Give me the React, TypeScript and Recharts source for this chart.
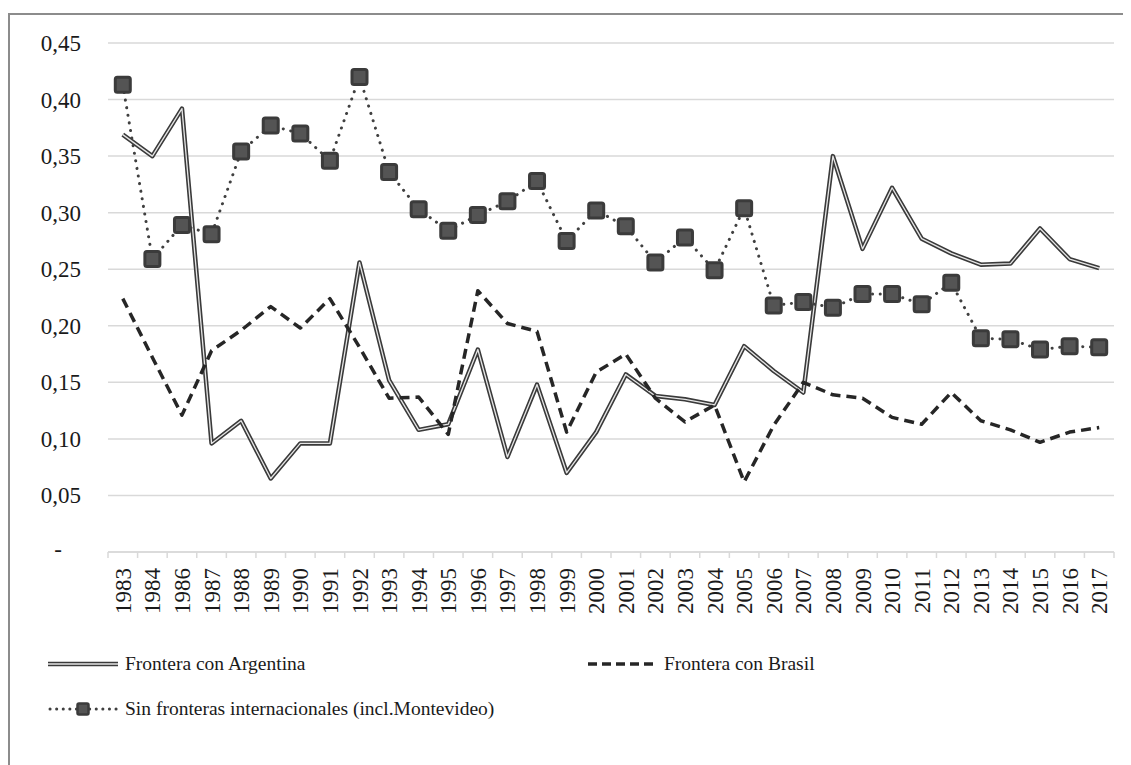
import { LineChart, Line, XAxis, YAxis, CartesianGrid, Legend } from 'recharts';

// años (falta 1985 en la serie original)
const years = [
  '1983', '1984', '1986', '1987', '1988', '1989', '1990', '1991', '1992', '1993',
  '1994', '1995', '1996', '1997', '1998', '1999', '2000', '2001', '2002', '2003',
  '2004', '2005', '2006', '2007', '2008', '2009', '2010', '2011', '2012', '2013',
  '2014', '2015', '2016', '2017',
];

const argentina = [
  0.369, 0.350, 0.392, 0.096, 0.116, 0.065, 0.096, 0.096, 0.256, 0.152,
  0.108, 0.113, 0.179, 0.084, 0.148, 0.070, 0.106, 0.157, 0.138, 0.135,
  0.130, 0.182, 0.160, 0.141, 0.350, 0.268, 0.322, 0.277, 0.264, 0.254,
  0.255, 0.286, 0.259, 0.251,
];

const brasil = [
  0.224, 0.172, 0.121, 0.178, 0.196, 0.217, 0.198, 0.224, 0.181, 0.136,
  0.137, 0.104, 0.231, 0.202, 0.195, 0.106, 0.159, 0.175, 0.136, 0.115,
  0.130, 0.062, 0.112, 0.150, 0.139, 0.136, 0.119, 0.113, 0.141, 0.116,
  0.108, 0.097, 0.106, 0.110,
];

const sinFronteras = [
  0.413, 0.259, 0.289, 0.281, 0.354, 0.377, 0.370, 0.346, 0.420, 0.336,
  0.303, 0.284, 0.298, 0.310, 0.328, 0.275, 0.302, 0.288, 0.256, 0.278,
  0.249, 0.304, 0.218, 0.221, 0.216, 0.228, 0.228, 0.219, 0.238, 0.189,
  0.188, 0.179, 0.182, 0.181,
];

const yTicks = [0, 0.05, 0.1, 0.15, 0.2, 0.25, 0.3, 0.35, 0.4, 0.45];

const data = years.map((year, i) => ({
  year,
  argentina: argentina[i],
  argentinaInner: argentina[i],
  brasil: brasil[i],
  sin: sinFronteras[i],
}));

const W = 1121;
const H = 740;
const MARGIN = { top: 28, right: 17, bottom: 0, left: 0 };
const Y_WIDTH = 98;
const PLOT_W = W - MARGIN.left - MARGIN.right - Y_WIDTH;
const STEP = PLOT_W / years.length;

const FONT = '"Liberation Serif", "Times New Roman", serif';
const GRID = '#d9d9d9';
const INK = '#1a1a1a';

const fmt = (v: number) => v.toFixed(2).replace('.', ',');

function YTick(props: any) {
  const { x, y, payload } = props;
  const isZero = payload.value === 0;
  return (
    <text
      x={isZero ? x - 19 : x}
      y={isZero ? y - 3 : y}
      dy="0.35em"
      textAnchor="end"
      style={{ fontFamily: FONT, fontSize: 23 }}
      fill={INK}
    >
      {isZero ? '-' : fmt(payload.value)}
    </text>
  );
}

function XTick(props: any) {
  const { x, y, payload, index } = props;
  const ty = y + 16;
  return (
    <g>
      <line x1={x - STEP / 2} x2={x - STEP / 2} y1={y} y2={y + 6} stroke={GRID} strokeWidth={1.5} />
      {index === years.length - 1 && (
        <line x1={x + STEP / 2} x2={x + STEP / 2} y1={y} y2={y + 6} stroke={GRID} strokeWidth={1.5} />
      )}
      <text
        x={x}
        y={ty}
        dy="0.35em"
        textAnchor="end"
        transform={`rotate(-90, ${x}, ${ty})`}
        style={{ fontFamily: FONT, fontSize: 23 }}
        fill={INK}
      >
        {payload.value}
      </text>
    </g>
  );
}

function SquareDot(props: any) {
  const { cx, cy, index } = props;
  if (cx == null || cy == null) return null;
  return (
    <rect
      key={`sq-${index}`}
      x={cx - 7.5}
      y={cy - 7.5}
      width={15}
      height={15}
      rx={2}
      fill="#545454"
      stroke="#3b3b3b"
      strokeWidth={3}
    />
  );
}

function Symbol({ kind }: { kind: string }) {
  if (kind === 'argentina') {
    return (
      <svg width={70} height={12}>
        <line x1={0} x2={70} y1={6} y2={6} stroke="#3a3a3a" strokeWidth={4.5} />
        <line x1={0} x2={70} y1={6} y2={6} stroke="#e6e6e6" strokeWidth={1.3} />
      </svg>
    );
  }
  if (kind === 'brasil') {
    return (
      <svg width={70} height={12}>
        <line x1={1} x2={70} y1={6} y2={6} stroke="#262626" strokeWidth={3.5} strokeDasharray="9 5" />
      </svg>
    );
  }
  return (
    <svg width={70} height={16}>
      <line x1={2} x2={70} y1={8} y2={8} stroke="#404040" strokeWidth={3}
        strokeDasharray="0.1 6.5" strokeLinecap="round" />
      <rect x={29.5} y={2.5} width={11} height={11} rx={1.5} fill="#545454" stroke="#3b3b3b" strokeWidth={2.5} />
    </svg>
  );
}

const legendPos: Record<string, { left: number; top: number }> = {
  argentina: { left: 38, top: 4 },
  brasil: { left: 577, top: 4 },
  sin: { left: 38, top: 49 },
};

function LegendContent(props: any) {
  const items = (props.payload || []).filter((p: any) => legendPos[p.dataKey]);
  return (
    <div style={{ position: 'relative', width: W, height: 90 }}>
      {items.map((p: any) => {
        const pos = legendPos[p.dataKey];
        return (
          <div
            key={p.dataKey}
            style={{
              position: 'absolute',
              left: pos.left,
              top: pos.top,
              height: 30,
              display: 'flex',
              alignItems: 'center',
              gap: 7,
              fontFamily: FONT,
              fontSize: 19.5,
              color: INK,
              whiteSpace: 'nowrap',
            }}
          >
            <Symbol kind={p.dataKey} />
            <span>{p.value}</span>
          </div>
        );
      })}
    </div>
  );
}

export default function App() {
  return (
    <>
      <style>{'html, body { overflow: hidden; }'}</style>
      <div
        style={{
          marginTop: 5,
          width: W + 20,
          height: H + 20,
          borderTop: '2px solid #8c8c8c',
          borderLeft: '2px solid #8c8c8c',
          background: '#fff',
        }}
      >
        <LineChart width={W} height={H} data={data} margin={MARGIN}>
          <CartesianGrid vertical={false} stroke={GRID} strokeWidth={1.5} />
          <XAxis
            dataKey="year"
            interval={0}
            height={H - 537}
            padding={{ left: STEP / 2, right: STEP / 2 }}
            tickSize={0}
            tickMargin={0}
            tickLine={false}
            axisLine={{ stroke: GRID, strokeWidth: 1.5 }}
            tick={<XTick />}
          />
          <YAxis
            width={Y_WIDTH}
            domain={[0, 0.45]}
            ticks={yTicks}
            axisLine={false}
            tickLine={false}
            tickSize={0}
            tickMargin={27}
            tick={<YTick />}
          />
          <Legend
            layout="horizontal"
            verticalAlign="middle"
            align="center"
            wrapperStyle={{ left: 0, top: 630, width: W }}
            content={<LegendContent />}
          />
          <Line
            dataKey="argentina"
            name="Frontera con Argentina"
            stroke="#3a3a3a"
            strokeWidth={4.5}
            strokeLinejoin="round"
            dot={false}
            activeDot={false}
            isAnimationActive={false}
          />
          <Line
            dataKey="argentinaInner"
            legendType="none"
            stroke="#e6e6e6"
            strokeWidth={1.3}
            strokeLinejoin="round"
            dot={false}
            activeDot={false}
            isAnimationActive={false}
          />
          <Line
            dataKey="brasil"
            name="Frontera con Brasil"
            stroke="#262626"
            strokeWidth={3.5}
            strokeDasharray="10 6"
            strokeLinejoin="round"
            dot={false}
            activeDot={false}
            isAnimationActive={false}
          />
          <Line
            dataKey="sin"
            name="Sin fronteras internacionales (incl.Montevideo)"
            stroke="#404040"
            strokeWidth={3}
            strokeDasharray="0.1 7.6"
            strokeLinecap="round"
            dot={<SquareDot />}
            activeDot={false}
            isAnimationActive={false}
          />
        </LineChart>
      </div>
    </>
  );
}
